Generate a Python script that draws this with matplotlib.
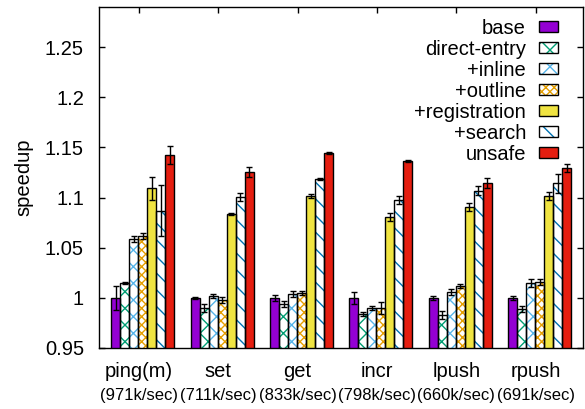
import matplotlib
matplotlib.use("Agg")
import matplotlib.pyplot as plt
from matplotlib.patches import Patch
from matplotlib.legend_handler import HandlerTuple
import numpy as np

plt.rcParams['font.family'] = ['Liberation Sans', 'DejaVu Sans']
plt.rcParams['hatch.linewidth'] = 1.0

categories = ['ping(m)', 'set', 'get', 'incr', 'lpush', 'rpush']
rates = ['(971k/sec)', '(711k/sec)', '(833k/sec)', '(798k/sec)', '(660k/sec)', '(691k/sec)']
series_names = ['base', 'direct-entry', '+inline', '+outline', '+registration', '+search', 'unsafe']

base = [1.000, 1.000, 1.000, 1.000, 1.000, 1.000]
base_err = [0.012, 0.001, 0.003, 0.006, 0.002, 0.002]
direct_entry = [1.015, 0.990, 0.994, 0.984, 0.983, 0.989]
direct_entry_err = [0.001, 0.004, 0.003, 0.002, 0.004, 0.003]
inline = [1.059, 1.002, 1.004, 0.990, 1.006, 1.015]
inline_err = [0.003, 0.002, 0.003, 0.002, 0.003, 0.004]
outline = [1.062, 0.998, 1.005, 0.990, 1.012, 1.016]
outline_err = [0.003, 0.003, 0.002, 0.006, 0.002, 0.003]
registration = [1.109, 1.084, 1.102, 1.081, 1.091, 1.102]
registration_err = [0.011, 0.001, 0.002, 0.004, 0.004, 0.004]
search = [1.087, 1.101, 1.118, 1.098, 1.107, 1.114]
search_err = [0.025, 0.004, 0.001, 0.004, 0.004, 0.009]
unsafe = [1.142, 1.125, 1.144, 1.136, 1.114, 1.129]
unsafe_err = [0.009, 0.005, 0.001, 0.001, 0.005, 0.004]

yticks = [0.95, 1.0, 1.05, 1.1, 1.15, 1.2, 1.25]
ytick_labels = ['0.95', '1', '1.05', '1.1', '1.15', '1.2', '1.25']

values = [base, direct_entry, inline, outline, registration, search, unsafe]
errors = [base_err, direct_entry_err, inline_err, outline_err, registration_err, search_err, unsafe_err]

# (facecolor, hatch, hatchcolor)
styles = [
    ('#9400D3', None, None),
    ('white', 'xx', '#009E73'),
    ('white', 'xx', '#56B4E9'),
    ('white', 'xxxx', '#E69F00'),
    ('#F0E442', None, None),
    ('white', '\\\\', '#0072B2'),
    ('#E51E10', None, None),
]

FS = 14.5

fig = plt.figure(figsize=(5.85, 4.09), dpi=100)
ax = fig.add_axes([0.1697, 0.1499, 0.8274, 0.8323])

x = np.arange(len(categories))
w = 0.1135
offset = 0.05
handles = []
for k, (vals, errs, (fc, hatch, hc)) in enumerate(zip(values, errors, styles)):
    pos = x + (k - 3) * w + offset
    if hatch:
        ax.bar(pos, vals, width=w, color='white', edgecolor=hc, hatch=hatch, linewidth=0, zorder=2)
        h1 = Patch(facecolor='white', edgecolor=hc, hatch=hatch, linewidth=0)
    else:
        ax.bar(pos, vals, width=w, color=fc, linewidth=0, zorder=2)
        h1 = Patch(facecolor=fc, linewidth=0)
    ax.bar(pos, vals, width=w, color='none', edgecolor='black', linewidth=1.0, zorder=3)
    h2 = Patch(facecolor='none', edgecolor='black', linewidth=1.0)
    ax.errorbar(pos, vals, yerr=errs, fmt='none', ecolor='black', elinewidth=1.0,
                capsize=2.3, capthick=1.0, zorder=4)
    handles.append((h1, h2))

ax.set_xlim(-0.50, 5.60)
ax.set_ylim(0.95, 1.29)
ax.set_yticks(yticks)
ax.set_yticklabels(ytick_labels)
ax.set_xticks(x)
ax.set_xticklabels(categories)
ax.tick_params(axis='both', direction='in', length=4.5, width=1.0, labelsize=FS,
               top=True, right=True)
ax.tick_params(axis='y', pad=11)
ax.tick_params(axis='x', pad=10)
for s in ax.spines.values():
    s.set_linewidth(1.0)

for xi, r in zip(x, rates):
    ax.annotate(r, xy=(xi, 0), xycoords=('data', 'axes fraction'),
                xytext=(0, -29), textcoords='offset points',
                ha='center', va='top', fontsize=12)

ax.set_ylabel('speedup', fontsize=FS, labelpad=8)

leg = ax.legend(handles, series_names, handler_map={tuple: HandlerTuple(ndivide=1)},
                loc='upper right', bbox_to_anchor=(0.948, 0.967), frameon=False,
                markerfirst=False, fontsize=FS, handlelength=0.95, handleheight=0.5,
                handletextpad=0.65, labelspacing=0.1, borderpad=0, borderaxespad=0)

fig.savefig('out.png', dpi=100)
